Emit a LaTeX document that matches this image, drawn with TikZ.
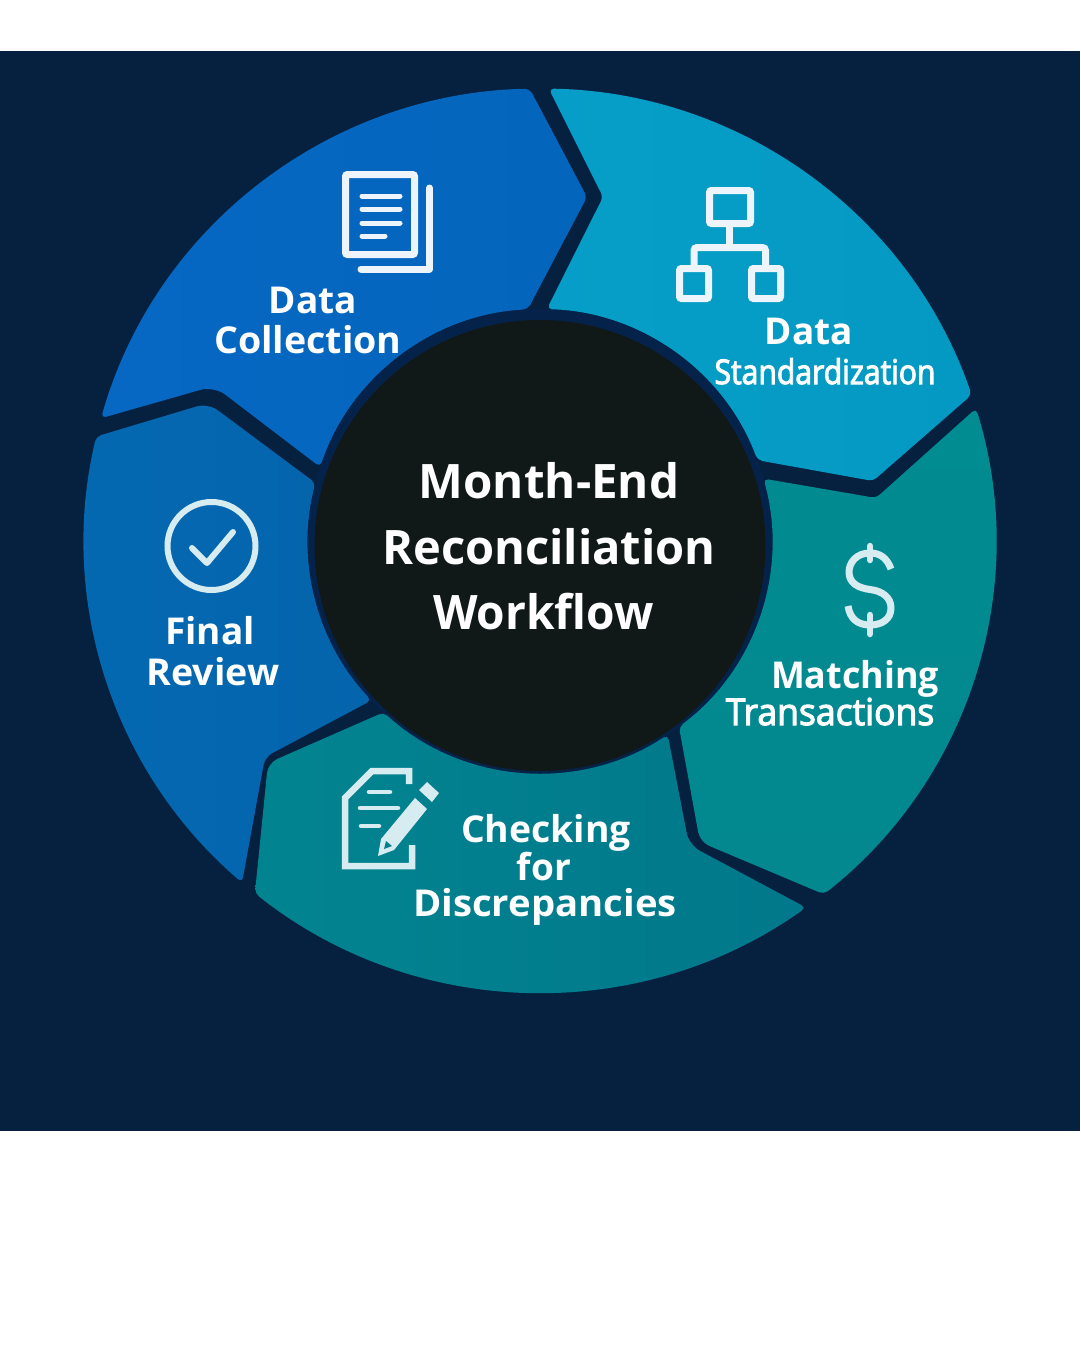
\documentclass[tikz,border=0pt]{standalone}
\usepackage{graphicx}
\usepackage{fontspec}
\setmainfont{Open Sans}
\newfontfamily\medfont[FakeBold=3]{Open Sans}
\definecolor{navy}{HTML}{06213F}
\definecolor{ring}{HTML}{05234A}
\definecolor{core}{HTML}{111818}
\definecolor{iconA}{HTML}{EEF4FC}
\definecolor{iconB}{HTML}{D6ECF0}
\definecolor{sAl}{HTML}{0768C4}
\definecolor{sAr}{HTML}{0465BC}
\definecolor{sBl}{HTML}{069EC8}
\definecolor{sBr}{HTML}{0499C2}
\definecolor{sCt}{HTML}{018C92}
\definecolor{sCb}{HTML}{02888E}
\definecolor{sDl}{HTML}{028490}
\definecolor{sDr}{HTML}{01788B}
\definecolor{sEl}{HTML}{0469B2}
\definecolor{sEr}{HTML}{0464AC}
\definecolor{sDh}{HTML}{02808E}
\newcommand{\sx}[2]{\scalebox{#1}[1]{#2}}
\tikzset{
  seg/.style={rounded corners=5pt},
  lab/.style={anchor=base,text=white,inner sep=0pt,font=\bfseries\fontsize{#1}{#1}\selectfont},
  labmed/.style={anchor=base,text=white,inner sep=0pt,font=\medfont\fontsize{#1}{#1}\selectfont},
  iconline/.style={draw=#1,line cap=round,line join=round,fill=none}
}
\begin{document}
\begin{tikzpicture}[x=1pt,y=1pt,yscale=-1]
\useasboundingbox (0,0) rectangle (1080,1350);
\fill[white] (0,0) rectangle (1080,1350);
\fill[navy] (0,51) rectangle (1080,1131);
% hub ring
\fill[ring] (540,541) circle[radius=232];
% segments
\shade[seg,left color=sAl,right color=sAr]
 ([shift={(195.7:456 and 452)}]540,540.5) arc[start angle=195.7,end angle=268.7,x radius=456pt,y radius=452pt]
 -- (587,197) -- ([shift={(267:232)}]540,541) arc[start angle=267,end angle=198.6,radius=232pt]
 [rounded corners=14pt] -- (214,386) [rounded corners=5pt] -- cycle;
\shade[seg,left color=sBl,right color=sBr]
 ([shift={(271.1:456 and 452)}]540,540.5) arc[start angle=271.1,end angle=341.2,x radius=456pt,y radius=452pt]
 -- (873,481) -- ([shift={(339.6:232)}]540,541) arc[start angle=339.6,end angle=271.7,radius=232pt]
 -- (603,197) -- cycle;
\shade[seg,top color=sCt,bottom color=sCb]
 ([shift={(343:456 and 452)}]540,540.5) arc[start angle=343,end angle=411.5,x radius=456pt,y radius=452pt]
 [rounded corners=10pt] -- (700,842) [rounded corners=5pt] -- ([shift={(53.2:232)}]540,541) arc[start angle=53.2,end angle=-15.6,radius=232pt]
 -- (876,498) -- cycle;
\shade[seg,left color=sDl,right color=sDr]
 ([shift={(54.3:456 and 452)}]540,540.5) arc[start angle=54.3,end angle=128.7,x radius=456pt,y radius=452pt]
 [rounded corners=10pt] -- (268,763) [rounded corners=5pt] -- ([shift={(132.4:232)}]540,541) arc[start angle=132.4,end angle=56.6,radius=232pt]
 [rounded corners=12pt] -- (689,845) [rounded corners=5pt] -- cycle;
\shade[seg,left color=sEl,right color=sEr]
 ([shift={(130.8:456 and 452)}]540,540.5) arc[start angle=130.8,end angle=193.3,x radius=456pt,y radius=452pt]
 [rounded corners=12pt] -- (208,403) [rounded corners=5pt] -- ([shift={(194.5:232)}]540,541) arc[start angle=194.5,end angle=136.6,radius=232pt]
 [rounded corners=8pt] -- (265,757) [rounded corners=5pt] -- cycle;
% hub
\fill[core] (540,545.5) circle[radius=225.5];
% title
\node[lab=47.5] (t1) at (549,498) {Month-End};
\node[lab=47.5] (t2) at (549,564) {\sx{0.99}{Reconciliation}};
\node[lab=47.5] (t3) at (543.5,629) {\sx{0.97}{Workflow}};
% labels
\node[lab=37] (a1) at (313,313) {Data};
\node[lab=37] (a2) at (308,353) {\sx{1.015}{Collection}};
\node[lab=37] (b1) at (809,344) {Data};
\node[labmed=34] (b2) at (825,384) {\sx{0.885}{Standardization}};
\node[lab=37] (c1) at (855,688) {\sx{0.97}{Matching}};
\node[labmed=37] (c2) at (830,725) {\sx{0.96}{Transactions}};
\node[lab=37] (d1) at (546,842) {\sx{1.01}{Checking}};
\node[lab=37] (d2) at (544,880) {for};
\node[lab=37] (d3) at (545,916) {\sx{1.035}{Discrepancies}};
\node[lab=37] (e1) at (210,644) {Final};
\node[lab=37] (e2) at (213,685) {\sx{1.015}{Review}};
% document icon
\draw[iconA,line width=7pt,rounded corners=2pt] (345.5,174.5) rectangle (414.5,254.5);
\draw[iconline=iconA,line width=7pt] (361,269) -- (429.5,269) -- (429.5,188);
\draw[iconline=iconA,line width=5pt] (362,196) -- (400,196) (362,209) -- (400,209) (362,223) -- (400,223) (362,236) -- (385,236);
% org chart icon
\draw[iconA,line width=7pt,rounded corners=2pt] (709.5,190.5) rectangle (750.5,223.5);
\draw[iconA,line width=7pt,rounded corners=3pt] (694,266) -- (694,247.5) -- (765.5,247.5) -- (765.5,266);
\draw[iconA,line width=7pt] (729.5,227) -- (729.5,247);
\draw[iconA,line width=7pt,rounded corners=2pt] (679.5,268.5) rectangle (708.5,298.5);
\draw[iconA,line width=7pt,rounded corners=2pt] (751.5,268.5) rectangle (780.5,298.5);
% dollar icon
\draw[iconB,line width=7pt,line join=round] (891,569) .. controls (887,558) and (880,553) .. (870,553) .. controls (856,553) and (849,563) .. (849,572) .. controls (849,583) and (858,588) .. (870,589.5) .. controls (883,591) and (891,598) .. (891,608) .. controls (891,619) and (882,625) .. (870,625) .. controls (858,625) and (850,619) .. (848,606);
\draw[iconline=iconB,line width=6.5pt] (870,546) -- (870,560) (870,615) -- (870,634);
% pencil and paper icon
\draw[iconline=iconB,line width=6.5pt,line cap=butt,line join=miter] (409,784) -- (409,771) -- (372,771) -- (345,798) -- (345,866) -- (412,866) -- (412,845);
\draw[iconline=iconB,line width=4.5pt] (369,792) -- (390,792) (360,808) -- (398,808) (361,826) -- (379,826);
\fill[iconB] (415,798) -- (427,809) -- (394,850) -- (378,856) -- (381,839) -- cycle;
\fill[sDh] (386,841) -- (392,846) -- (384,849) -- cycle;
\fill[iconB] (427,782) -- (439,793) -- (432,802) -- (419,790) -- cycle;
% check icon
\draw[iconB,line width=6pt] (211.5,546) circle[radius=44];
\draw[iconline=iconB,line width=6pt] (192,548) -- (207,563) -- (233,532);
\end{tikzpicture}
\end{document}
